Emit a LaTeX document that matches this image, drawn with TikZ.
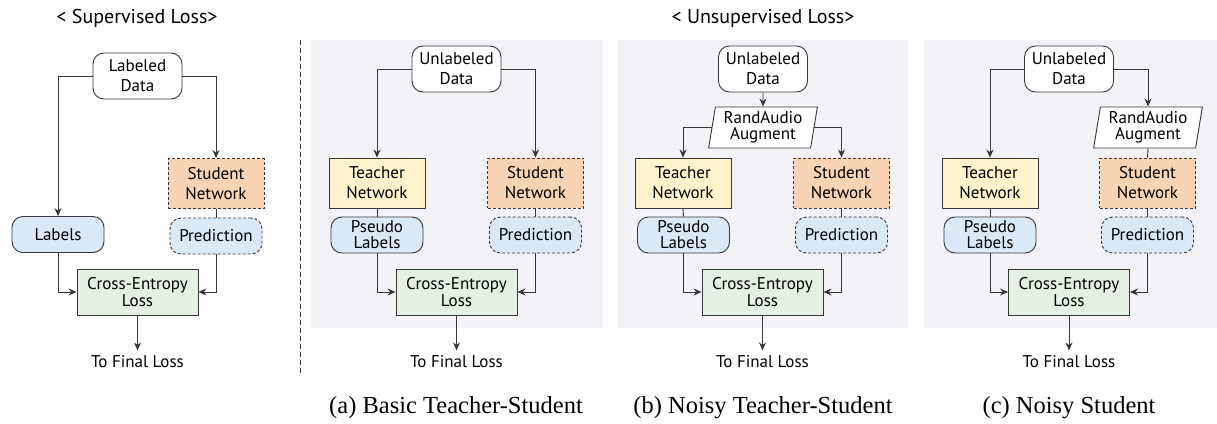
\documentclass[tikz,border=0pt]{standalone}
\usepackage{fontspec}
\setmainfont{PT Sans}
\newfontfamily\capfont{Liberation Serif}
\usetikzlibrary{arrows.meta,shapes.geometric}

\definecolor{panelgray}{RGB}{242,242,247}
\definecolor{linegray}{RGB}{55,55,55}
\definecolor{studentfill}{RGB}{248,212,180}
\definecolor{teacherfill}{RGB}{255,242,204}
\definecolor{labelfill}{RGB}{219,232,246}
\definecolor{lossfill}{RGB}{228,240,226}

\begin{document}
\begin{tikzpicture}[x=1pt,y=-1pt,line width=0.9pt,
  every node/.style={inner sep=0pt,align=center,font=\fontsize{17}{20}\selectfont},
  databox/.style={draw=linegray,fill=white,rounded corners=11pt,minimum width=89pt,minimum height=46pt},
  teacherbox/.style={draw=linegray,fill=teacherfill,minimum width=96pt,minimum height=50pt},
  studentbox/.style={draw=linegray,fill=studentfill,dash pattern=on 3pt off 2pt,minimum width=96pt,minimum height=50pt},
  labelbox/.style={draw=linegray,fill=labelfill,rounded corners=11pt,minimum width=92pt,minimum height=36pt,font=\fontsize{17}{16}\selectfont},
  predbox/.style={labelbox,dash pattern=on 3pt off 2pt},
  lossbox/.style={draw=linegray,fill=lossfill,minimum width=121pt,minimum height=46pt,font=\fontsize{17}{14}\selectfont},
  augbox/.style={trapezium,trapezium left angle=80,trapezium right angle=100,trapezium stretches=true,draw=linegray,fill=white,minimum width=109pt,minimum height=41pt,font=\fontsize{17}{16}\selectfont},
  titletext/.style={font=\fontsize{20}{24}\selectfont},
  captext/.style={font=\capfont\fontsize{24.5}{28}\selectfont},
  arr/.style={draw=linegray,-{Stealth[length=8pt,width=7pt]}},
  link/.style={draw=linegray}]
\path[use as bounding box] (0,0) rectangle (1217,423);
\fill[panelgray] (311,40) rectangle (603,328);
\fill[panelgray] (617,40) rectangle (908,328);
\fill[panelgray] (924,40) rectangle (1217,328);
\draw[linegray,line width=0.8pt,dash pattern=on 5pt off 3pt] (300,40) -- (300,376);
\node[titletext] (suptitle) at (137,18) {< Supervised Loss>};
\node[titletext] (unsuptitle) at (763,18) {< Unsupervised Loss>};

\node[databox] (ldata) at (137.5,76) {Labeled\\Data};
\node[studentbox] (lstud) at (216,183.5) {Student\\Network};
\node[predbox] (lpred) at (216,236) {Prediction};
\node[labelbox] (llab) at (58,234.5) {Labels};
\node[lossbox] (lce) at (137.5,292) {Cross-Entropy\\Loss};
\node (lfin) at (137.5,362) {To Final Loss};
\draw[arr] (ldata.west) -| (llab.north);
\draw[arr] (ldata.east) -| (lstud.north);
\draw[link] (lstud.south) -- (lpred.north);
\draw[arr] (llab.south) |- (lce.west);
\draw[arr] (lpred.south) |- (lce.east);
\draw[arr,shorten >=5pt] (lce.south) -- (lfin.north);

\node[databox] (adata) at (456.5,69) {Unlabeled\\Data};
\node[teacherbox] (ateach) at (377,183) {Teacher\\Network};
\node[studentbox] (astud) at (535.5,183) {Student\\Network};
\node[labelbox] (apseudo) at (377,235) {Pseudo\\Labels};
\node[predbox] (apred) at (535.5,235) {Prediction};
\node[lossbox] (ace) at (456.5,292) {Cross-Entropy\\Loss};
\node (afin) at (456.5,362) {To Final Loss};
\draw[arr] (adata.west) -| (ateach.north);
\draw[arr] (adata.east) -| (astud.north);
\draw[link] (ateach.south) -- (apseudo.north);
\draw[link] (astud.south) -- (apred.north);
\draw[arr] (apseudo.south) |- (ace.west);
\draw[arr] (apred.south) |- (ace.east);
\draw[arr,shorten >=5pt] (ace.south) -- (afin.north);

\node[databox] (bdata) at (763,69) {Unlabeled\\Data};
\node[augbox] (baug) at (763,127.5) {RandAudio\\Augment};
\node[teacherbox] (bteach) at (683,183) {Teacher\\Network};
\node[studentbox] (bstud) at (841.5,183) {Student\\Network};
\node[labelbox] (bpseudo) at (683.5,235) {Pseudo\\Labels};
\node[predbox] (bpred) at (841.5,235) {Prediction};
\node[lossbox] (bce) at (762.5,292) {Cross-Entropy\\Loss};
\node (bfin) at (762.5,362) {To Final Loss};
\draw[arr] (bdata.south) -- (baug.north);
\draw[arr] (baug.west) -| (bteach.north);
\draw[arr] (baug.east) -| (bstud.north);
\draw[link] (bteach.south) -- (bpseudo.north);
\draw[link] (bstud.south) -- (bpred.north);
\draw[arr] (bpseudo.south) |- (bce.west);
\draw[arr] (bpred.south) |- (bce.east);
\draw[arr,shorten >=5pt] (bce.south) -- (bfin.north);

\node[databox] (cdata) at (1069,69) {Unlabeled\\Data};
\node[augbox] (caug) at (1148,127.5) {RandAudio\\Augment};
\node[teacherbox] (cteach) at (990,183) {Teacher\\Network};
\node[studentbox] (cstud) at (1147.5,183) {Student\\Network};
\node[labelbox] (cpseudo) at (990,235) {Pseudo\\Labels};
\node[predbox] (cpred) at (1147.5,235) {Prediction};
\node[lossbox] (cce) at (1069,292) {Cross-Entropy\\Loss};
\node (cfin) at (1069,362) {To Final Loss};
\draw[arr] (cdata.west) -| (cteach.north);
\draw[arr] (cdata.east) -| (caug.north);
\draw[link] (caug.south) -- (cstud.north);
\draw[link] (cteach.south) -- (cpseudo.north);
\draw[link] (cstud.south) -- (cpred.north);
\draw[arr] (cpseudo.south) |- (cce.west);
\draw[arr] (cpred.south) |- (cce.east);
\draw[arr,shorten >=5pt] (cce.south) -- (cfin.north);

\node[captext] (acap) at (456,408) {(a) Basic Teacher-Student};
\node[captext] (bcap) at (763,408) {(b) Noisy Teacher-Student};
\node[captext] (ccap) at (1069,408) {(c) Noisy Student};
\end{tikzpicture}
\end{document}
